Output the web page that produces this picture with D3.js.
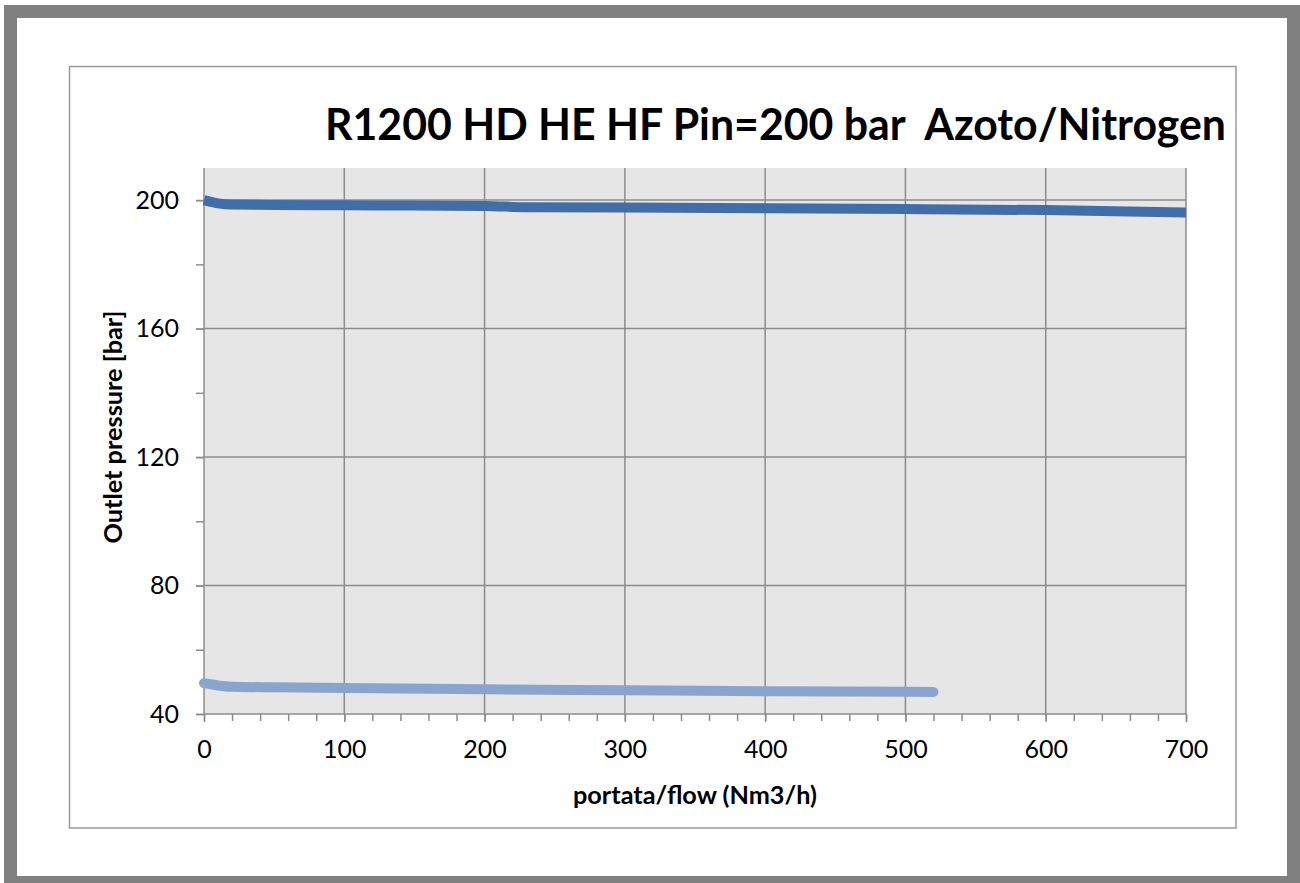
<!DOCTYPE html>
<html>
<head>
<meta charset="utf-8">
<style>
  body { margin: 0; background: #fff; }
  svg { display: block; }
  .tick text { font-family: Lato, "Open Sans", sans-serif; }
</style>
</head>
<body>
<div id="chart"></div>
<script src="https://d3js.org/d3.v7.min.js"></script>
<script>

// chart values
const title = "R1200 HD HE HF Pin=200 bar\u00a0\u00a0Azoto/Nitrogen";
const xTitle = "portata/flow (Nm3/h)";
const yTitle = "Outlet pressure [bar]";

const xTicks = [0, 100, 200, 300, 400, 500, 600, 700];
const yTicks = [40, 80, 120, 160, 200];

// upper curve (dark blue)
const flowHigh = [0, 10, 20, 50, 100, 150, 200, 230, 300, 400, 500, 600, 700];
const pressHigh = [200, 199.0, 198.6, 198.5, 198.4, 198.3, 198.2, 197.8, 197.7, 197.5, 197.2, 196.9, 196.1];

// lower curve (light blue)
const flowLow = [0, 10, 20, 50, 100, 200, 300, 400, 500, 520];
const pressLow = [49.6, 48.9, 48.5, 48.3, 48.1, 47.7, 47.4, 47.1, 46.9, 46.85];

const width = 1300, height = 883;
const plot = {left: 204, right: 1186, top: 168, bottom: 714};

const svg = d3.select("#chart").append("svg")
    .attr("width", width)
    .attr("height", height);

// outer grey frame
svg.append("rect")
    .attr("x", 4).attr("y", 5)
    .attr("width", width - 4).attr("height", height - 5)
    .attr("fill", "#808080");
svg.append("rect")
    .attr("x", 17).attr("y", 18)
    .attr("width", 1287 - 17).attr("height", 876 - 18)
    .attr("fill", "#fff");

// chart area border
svg.append("rect")
    .attr("x", 69.5).attr("y", 66.5)
    .attr("width", 1236 - 69.5).attr("height", 828 - 66.5)
    .attr("fill", "#fff")
    .attr("stroke", "#9a9a9a")
    .attr("stroke-width", 1.5);

let x = d3.scaleLinear().domain([0, 700]).range([plot.left, plot.right]);
let y = d3.scaleLinear().domain([40, 210]).range([plot.bottom, plot.top]);

// plot background
svg.append("rect")
    .attr("x", plot.left).attr("y", plot.top)
    .attr("width", plot.right - plot.left)
    .attr("height", plot.bottom - plot.top)
    .attr("fill", "#e6e6e6");

// gridlines
svg.append("g")
    .selectAll("line")
    .data(xTicks.slice(1))
    .join("line")
      .attr("x1", d => x(d)).attr("x2", d => x(d))
      .attr("y1", plot.top).attr("y2", plot.bottom)
      .attr("stroke", "#8c8c8c")
      .attr("stroke-width", 1.5);

svg.append("g")
    .selectAll("line")
    .data(yTicks.slice(1))
    .join("line")
      .attr("x1", plot.left).attr("x2", plot.right)
      .attr("y1", d => y(d)).attr("y2", d => y(d))
      .attr("stroke", "#8c8c8c")
      .attr("stroke-width", 1.5);

// minor ticks (every 20)
svg.append("g")
    .attr("transform", `translate(0,${plot.bottom})`)
    .call(d3.axisBottom(x).tickValues(d3.range(0, 701, 20)).tickSize(7).tickFormat(""))
    .call(g => g.select(".domain").remove())
    .call(g => g.selectAll("line").attr("stroke", "#8c8c8c").attr("stroke-width", 1.5));

svg.append("g")
    .attr("transform", `translate(${plot.left},0)`)
    .call(d3.axisLeft(y).tickValues(d3.range(40, 201, 20)).tickSize(8).tickFormat(""))
    .call(g => g.select(".domain").remove())
    .call(g => g.selectAll("line").attr("stroke", "#8c8c8c").attr("stroke-width", 1.5));

// main axes with labels
svg.append("g")
    .attr("transform", `translate(0,${plot.bottom})`)
    .call(d3.axisBottom(x).tickValues(xTicks).tickSize(8).tickPadding(18))
    .call(g => g.select(".domain").attr("stroke", "#8c8c8c").attr("stroke-width", 1.5)
        .attr("d", `M${plot.left},0H${plot.right}`))
    .call(g => g.selectAll("line").attr("stroke", "#8c8c8c").attr("stroke-width", 1.5))
    .call(g => g.selectAll("text").attr("font-size", 25).attr("fill", "#000"));

svg.append("g")
    .attr("transform", `translate(${plot.left},0)`)
    .call(d3.axisLeft(y).tickValues(yTicks).tickSize(8).tickPadding(17))
    .call(g => g.select(".domain").attr("stroke", "#8c8c8c").attr("stroke-width", 1.5)
        .attr("d", `M0,${plot.top}V${plot.bottom}`))
    .call(g => g.selectAll("line").attr("stroke", "#8c8c8c").attr("stroke-width", 1.5))
    .call(g => g.selectAll("text").attr("font-size", 25).attr("fill", "#000"));

// series
let line = d3.line()
    .x(d => x(d[0]))
    .y(d => y(d[1]))
    .curve(d3.curveMonotoneX);

svg.append("path")
    .datum(d3.zip(flowLow, pressLow))
    .attr("d", line)
    .attr("fill", "none")
    .attr("stroke", "#8aa5cd")
    .attr("stroke-width", 10)
    .attr("stroke-linecap", "round")
    .attr("stroke-linejoin", "round");

svg.append("path")
    .datum(d3.zip(flowHigh, pressHigh))
    .attr("d", line)
    .attr("fill", "none")
    .attr("stroke", "#416ea8")
    .attr("stroke-width", 10)
    .attr("stroke-linecap", "butt")
    .attr("stroke-linejoin", "round");

// titles
svg.append("text")
    .attr("x", 1226).attr("y", 140)
    .attr("text-anchor", "end")
    .attr("font-family", "Lato, sans-serif")
    .attr("font-weight", "bold")
    .attr("font-size", 44)
    .attr("textLength", 901)
    .attr("lengthAdjust", "spacingAndGlyphs")
    .text(title);

svg.append("text")
    .attr("x", (plot.left + plot.right) / 2).attr("y", 804)
    .attr("text-anchor", "middle")
    .attr("font-family", "Lato, sans-serif")
    .attr("font-weight", "bold")
    .attr("font-size", 24)
    .attr("textLength", 244)
    .attr("lengthAdjust", "spacingAndGlyphs")
    .text(xTitle);

svg.append("text")
    .attr("transform", `translate(122,427) rotate(-90)`)
    .attr("text-anchor", "middle")
    .attr("font-family", "Lato, sans-serif")
    .attr("font-weight", "bold")
    .attr("font-size", 24)
    .attr("textLength", 233)
    .attr("lengthAdjust", "spacingAndGlyphs")
    .text(yTitle);

</script>
</body>
</html>
